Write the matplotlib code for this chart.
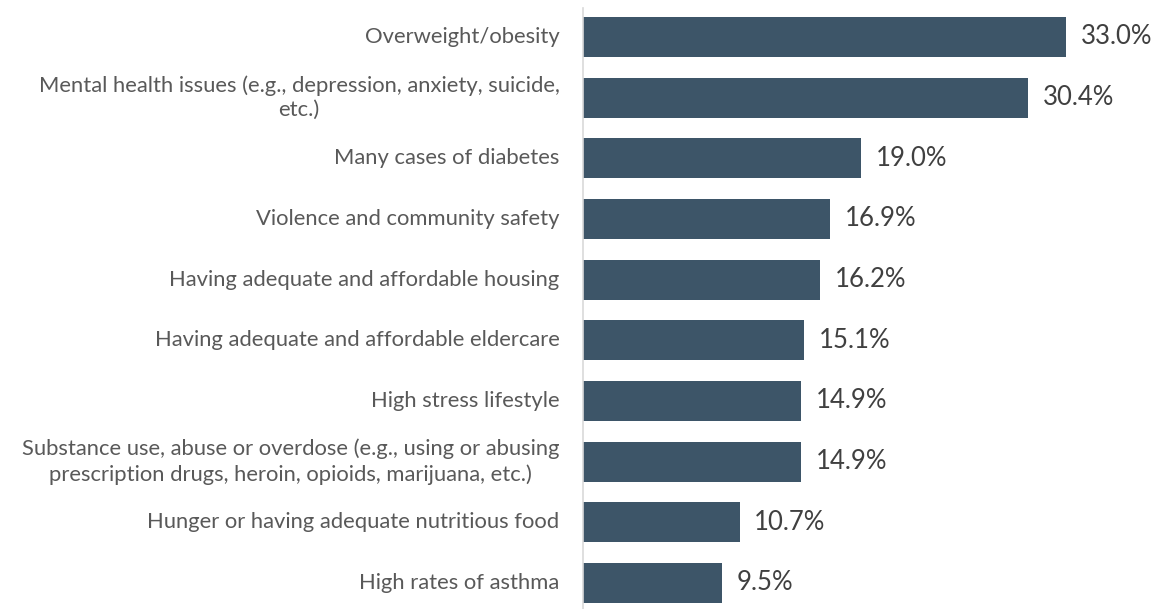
import matplotlib.pyplot as plt

# 健康问题占比（横向条形图）
labels = [
    'Overweight/obesity',
    'Mental health issues (e.g., depression, anxiety, suicide,\netc.)',
    'Many cases of diabetes',
    'Violence and community safety',
    'Having adequate and affordable housing',
    'Having adequate and affordable eldercare',
    'High stress lifestyle',
    'Substance use, abuse or overdose (e.g., using or abusing\nprescription drugs, heroin, opioids, marijuana, etc.)',
    'Hunger or having adequate nutritious food',
    'High rates of asthma',
]
values = [33.0, 30.4, 19.0, 16.9, 16.2, 15.1, 14.9, 14.9, 10.7, 9.5]

plt.rcParams['font.family'] = ['Lato', 'DejaVu Sans']
bar_color = '#3D5568'
label_color = '#595959'
value_color = '#404040'

fig = plt.figure(figsize=(11.57, 6.09), dpi=100)
ax = fig.add_axes([583 / 1157, 0, 1 - 583 / 1157, 601 / 609])

pos = list(range(len(values)))
ax.barh(pos, values, height=0.66, color=bar_color)
ax.set_ylim(9.43, -0.478)
ax.set_xlim(0, 39.2)

# 数值标签
for y, v in zip(pos, values):
    ax.text(v + 1.0, y, f'{v:.1f}%', va='center', ha='left', fontsize=18.5, color=value_color)

# 类别标签（多行居中）
for y, lab in zip(pos, labels):
    ax.annotate(lab, xy=(0, y), xycoords='data', xytext=(-17, 0), textcoords='offset points',
                ha='right', va='center', multialignment='center', fontsize=15.8, color=label_color,
                linespacing=1.3)

ax.set_xticks([])
ax.set_yticks([])
for name, spine in ax.spines.items():
    spine.set_visible(name == 'left')
ax.spines['left'].set_color('#D9D9D9')
ax.spines['left'].set_linewidth(1.2)

fig.savefig('out.png', dpi=100)
